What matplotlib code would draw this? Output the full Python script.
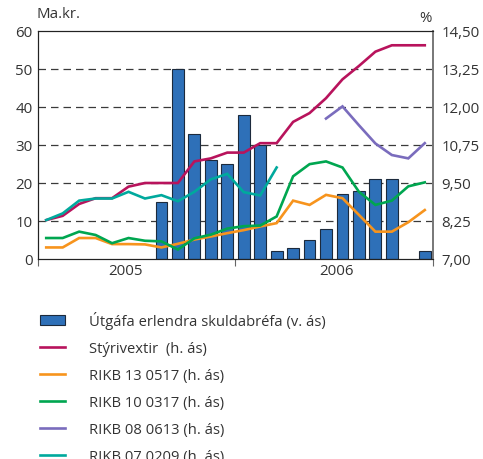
import matplotlib
matplotlib.use("Agg")
import matplotlib.pyplot as plt
import numpy as np

plt.rcParams["font.family"] = ["Open Sans", "DejaVu Sans"]

nan = np.nan
# monthly, Jan 2005 - Dec 2006
issuance = [nan, nan, nan, nan, nan, nan, nan, 15, 50, 33, 26, 25,
            38, 30, 2, 3, 5, 8, 17, 18, 21, 21, nan, 2]
styrivextir = [8.28, 8.42, 8.81, 9.00, 9.00, 9.38, 9.50, 9.50, 9.50, 10.21, 10.31, 10.50,
               10.50, 10.81, 10.81, 11.51, 11.80, 12.29, 12.91, 13.35, 13.82, 14.03, 14.03, 14.03]
rikb13 = [7.38, 7.38, 7.69, 7.69, 7.49, 7.49, 7.48, 7.38, 7.50, 7.64, 7.74, 7.85,
          7.95, 8.07, 8.18, 8.92, 8.78, 9.11, 9.00, 8.45, 7.90, 7.90, 8.21, 8.61]
rikb10 = [7.69, 7.69, 7.90, 7.79, 7.52, 7.69, 7.60, 7.58, 7.31, 7.68, 7.80, 8.00,
          8.08, 8.10, 8.40, 9.72, 10.12, 10.21, 10.01, 9.21, 8.78, 8.92, 9.39, 9.52]
rikb08 = [nan] * 17 + [11.62, 12.02, 11.40, 10.80, 10.42, 10.31, 10.81]
rikb07 = [8.28, 8.50, 8.92, 8.99, 8.99, 9.21, 8.99, 9.10, 8.90, 9.21, 9.62, 9.80,
          9.20, 9.09, 10.01] + [nan] * 9

years = ["2005", "2006"]
left_ticks = [0, 10, 20, 30, 40, 50, 60]
right_ticks = ["7,00", "8,25", "9,50", "10,75", "12,00", "13,25", "14,50"]

series = [
    ("Stýrivextir  (h. ás)", styrivextir, "#b8135c"),
    ("RIKB 13 0517 (h. ás)", rikb13, "#f7941d"),
    ("RIKB 10 0317 (h. ás)", rikb10, "#00a650"),
    ("RIKB 08 0613 (h. ás)", rikb08, "#7a6cbd"),
    ("RIKB 07 0209 (h. ás)", rikb07, "#00a99d"),
]

x = np.arange(len(issuance))
fs = 10.8

fig = plt.figure(figsize=(4.83, 4.60), dpi=100)
ax = fig.add_axes([38 / 483, 1 - 260 / 460, 395 / 483, 228 / 460])
ax2 = ax.twinx()

ax.set_axisbelow(True)
bars = ax.bar(x, issuance, width=0.72, color="#2e70b8", edgecolor="#1c2a3c",
              linewidth=0.8, label="Útgáfa erlendra skuldabréfa (v. ás)")
for lvl in left_ticks[1:-1]:
    ax.axhline(lvl, color="#3a3a3a", lw=0.9, dashes=(6, 4), zorder=0)

ax.set_ylim(0, 60)
ax.set_xlim(-0.5, 23.5)
ax.set_yticks(left_ticks)
ax.tick_params(axis="y", length=0, labelsize=fs, pad=4, colors="#333333")

ax.set_xticks([-0.5, 11.5, 23.5])
ax.set_xticklabels([])
ax.tick_params(axis="x", which="major", length=5, color="#666666")
ax.set_xticks([4.8, 17.65], minor=True)
ax.set_xticklabels(years, minor=True)
ax.tick_params(axis="x", which="minor", length=0, labelsize=fs, pad=3, colors="#333333")

lines = []
for lab, vals, col in series:
    (ln,) = ax2.plot(x, vals, color=col, lw=1.9, label=lab, solid_joinstyle="miter")
    lines.append(ln)
ax2.set_ylim(7.0, 14.5)
ax2.set_yticks(np.linspace(7.0, 14.5, 7))
ax2.set_yticklabels(right_ticks)
ax2.tick_params(axis="y", length=0, labelsize=fs, pad=6, colors="#333333")

for a in (ax, ax2):
    a.spines["left"].set_color("#222222")
    a.spines["top"].set_color("#222222")
    a.spines["bottom"].set_color("#222222")
    a.spines["right"].set_color("#777777")
    a.spines["right"].set_linewidth(1.2)

fig.text(37 / 483, 1 - 15 / 460, "Ma.kr.", fontsize=fs, color="#333333",
         ha="left", va="center")
fig.text(432 / 483, 1 - 18 / 460, "%", fontsize=fs, color="#333333",
         ha="right", va="center")

fig.legend([bars] + lines, [bars.get_label()] + [l.get_label() for l in lines],
           loc="upper left", bbox_to_anchor=(34 / 483, 1 - 306 / 460),
           frameon=False, fontsize=10.6, labelspacing=0.82, handlelength=1.7,
           handletextpad=1.65, borderaxespad=0, labelcolor="#333333")

fig.savefig("out.png", dpi=100)
